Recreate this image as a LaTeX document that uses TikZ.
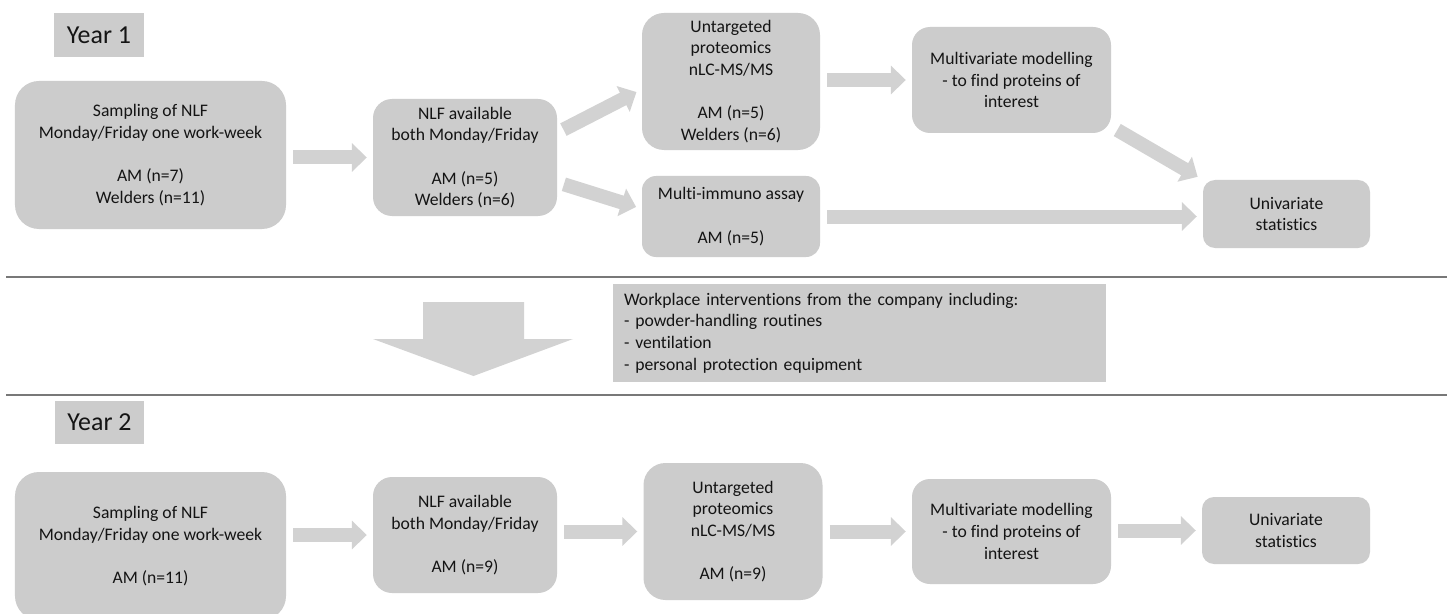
\documentclass[tikz,border=0pt]{standalone}
\usepackage{fontspec}
\setmainfont{Carlito}[Ligatures=NoCommon]
\usepackage{xcolor}
\usetikzlibrary{arrows.meta}

\definecolor{boxgray}{RGB}{204,204,204}
\definecolor{arrowgray}{RGB}{210,210,210}
\definecolor{linegray}{RGB}{120,120,120}
\definecolor{textdark}{RGB}{20,20,20}

\begin{document}
\begin{tikzpicture}[
    x=1bp, y=-1bp,
    box/.style={
        rectangle,
        rounded corners=#1,
        fill=boxgray,
        inner sep=0pt,
        align=center,
        text=textdark,
        font=\fontsize{17.7}{21.7}\selectfont
    },
    box/.default=18bp,
    yearbox/.style={box=0bp, font=\fontsize{26}{30}\selectfont},
    note/.style={box=0bp, inner xsep=11bp, align=left},
    arrow/.style={line width=14bp, draw=arrowgray, -{Triangle[width=28bp,length=15bp]}, shorten <=7bp, shorten >=6bp},
    divider/.style={draw=linegray, line width=1.5bp}
]

\clip (0,0) rectangle (1447,614);
\fill[white] (0,0) rectangle (1447,614);

% Year 1
\node[yearbox, minimum width=90bp, minimum height=44bp] (year1) at (99,35) {Year 1};
\node[box=24bp, minimum width=271bp, minimum height=148bp] (samp1) at (150.5,155) {Sampling of NLF\\Monday/Friday one work-week\\[21.7bp]AM (n=7)\\Welders (n=11)};
\node[box=19bp, minimum width=184bp, minimum height=117bp] (avail1) at (465,157.5) {NLF available\\both Monday/Friday\\[21.7bp]AM (n=5)\\Welders (n=6)};
\node[box=22bp, minimum width=178bp, minimum height=137bp] (prot1) at (731,81.5) {Untargeted\\proteomics\\nLC-MS/MS\\[21.7bp]AM (n=5)\\Welders (n=6)};
\node[box=14bp, minimum width=178bp, minimum height=81bp] (immuno1) at (731,216.5) {Multi-immuno assay\\[21.7bp]AM (n=5)};
\node[box=18bp, minimum width=199bp, minimum height=106bp] (multi1) at (1011.5,80) {Multivariate modelling\\- to find proteins of\\interest};
\node[box=12bp, minimum width=167bp, minimum height=68bp] (uni1) at (1286.5,214) {Univariate\\statistics};

\draw[arrow] (samp1.east |- avail1.west) -- (avail1.west);
\draw[arrow] (avail1.15) -- (prot1.185);
\draw[arrow] (avail1.-15) -- (immuno1.175);
\draw[arrow] (prot1.east |- multi1.west) -- (multi1.west);
\draw[arrow] (multi1.-25) -- (uni1.north west);
\draw[arrow] (immuno1.east) -- (immuno1.east -| uni1.west);

% Between the years
\draw[divider] (6,277) -- (1447,277);
\fill[arrowgray] (423,302) -- (524,302) -- (524,339) -- (573,339) -- (473.5,376) -- (373,339) -- (423,339) -- cycle;
\node[note, minimum width=493bp, minimum height=98bp, text width=471bp] (interv) at (859.5,333) {Workplace interventions from the company including:\\- powder-handling routines\\- ventilation\\- personal protection equipment};
\draw[divider] (6,395) -- (1447,395);

% Year 2
\node[yearbox, minimum width=89bp, minimum height=43bp] (year2) at (99.5,422.5) {Year 2};
\node[box=24bp, minimum width=271bp, minimum height=148bp] (samp2) at (150.5,546) {Sampling of NLF\\Monday/Friday one work-week\\[21.7bp]AM (n=11)};
\node[box=19bp, minimum width=184bp, minimum height=116bp] (avail2) at (465,535) {NLF available\\both Monday/Friday\\[21.7bp]AM (n=9)};
\node[box=22bp, minimum width=179bp, minimum height=137bp] (prot2) at (733,531.5) {Untargeted\\proteomics\\nLC-MS/MS\\[21.7bp]AM (n=9)};
\node[box=18bp, minimum width=199bp, minimum height=105bp] (multi2) at (1011.5,531.5) {Multivariate modelling\\- to find proteins of\\interest};
\node[box=12bp, minimum width=168bp, minimum height=67bp] (uni2) at (1286,530.5) {Univariate\\statistics};

\draw[arrow] (samp2.east |- avail2.west) -- (avail2.west);
\draw[arrow] (avail2.east |- prot2.west) -- (prot2.west);
\draw[arrow] (prot2.east |- multi2.west) -- (multi2.west);
\draw[arrow] (multi2.east |- uni2.west) -- (uni2.west);

\end{tikzpicture}
\end{document}
